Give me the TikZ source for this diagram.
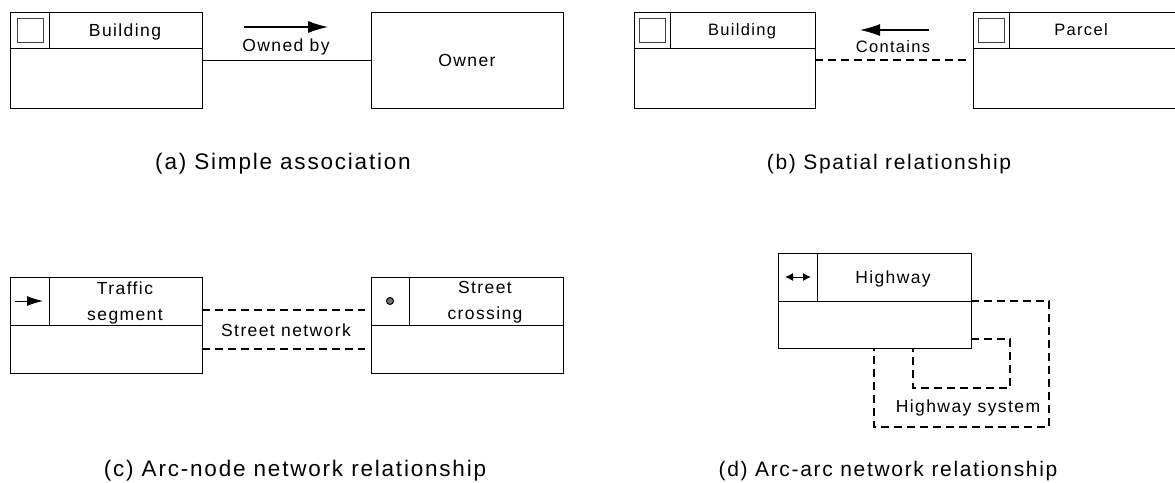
\documentclass[tikz,border=0pt]{standalone}
\usepackage{fontspec}
\setmainfont[LetterSpace=8]{Liberation Sans}
\usetikzlibrary{arrows.meta}
\newcommand{\narrowfont}{\fontsize{16.5}{26}\selectfont}
\tikzset{
  classbox/.style={draw, line width=1pt, inner sep=0pt, outer sep=0pt},
  labeltext/.style={font=\fontsize{17.5}{26}\selectfont, align=center, inner sep=0pt},
  captiontext/.style={font=\fontsize{22.5}{26}\selectfont, inner sep=0pt},
  captionright/.style={font=\fontsize{21}{26}\selectfont, inner sep=0pt},
  iconbox/.style={draw=black!75, line width=1pt, inner sep=0pt, minimum width=26pt, minimum height=24pt},
  dashline/.style={line width=1.1pt, dash pattern=on 8pt off 5pt},
  bigarrow/.style={line width=1.1pt, -{Latex[length=20pt,width=12pt]}},
  iconarrow/.style={line width=1pt, -{Latex[length=16pt,width=10pt]}},
  bothway/.style={line width=1pt, {Latex[length=8pt,width=8pt]}-{Latex[length=8pt,width=8pt]}}
}
\begin{document}
\begin{tikzpicture}[x=1pt,y=-1pt]
  \useasboundingbox (0,0) rectangle (1175,482);
  % the parcel box runs off the right edge of the page
  \foreach \nm/\xa/\ya/\xb/\yb/\xv/\yd/\xt/\txt in {
      buildingA/10/12/202/108/49/48/125/Building,
      buildingB/634/12/815/108/670/48/742/{\narrowfont Building},
      parcel/973/12/1185/108/1009/48/1081/{\narrowfont Parcel\vphantom{g}},
      traffic/10/277/202/373/49/325/125/{Traffic\\segment},
      crossing/371/277/563/373/409/325/485/{Street\\crossing},
      highway/778/253/971/348/817/301/893/Highway}{
    \node[classbox, minimum width={(\xb-\xa)*1pt}, minimum height={(\yb-\ya)*1pt}] (\nm) at ({(\xa+\xb)/2},{(\ya+\yb)/2}) {};
    \draw[line width=1pt] (\xa,\yd) -- (\xb,\yd);
    \draw[line width=1pt] (\xv,\ya) -- (\xv,\yd);
    \node[labeltext] (\nm text) at (\xt,{(\ya+\yd)/2+1.5}) {\txt};
  }
  \node[classbox, minimum width=192pt, minimum height=96pt, labeltext] (owner) at (467,60) {Owner};

  % icons in the header cells
  \node[iconbox] (iconA) at (30,30) {};
  \node[iconbox] (iconB) at (652,30) {};
  \node[iconbox] (iconC) at (991,30) {};
  \node[circle, draw, fill=black!55, line width=1pt, minimum size=7pt, inner sep=0pt] (dot) at (390,301) {};
  \draw[iconarrow] (15,301) -- (43,301);
  \draw[bothway] (785,277) -- (811,277);

  % (a)
  \draw[line width=1pt] (buildingA) -- (owner);
  \draw[bigarrow] (244,27) -- (328,27);
  \node[labeltext] (ownedby) at (286,47) {Owned by};
  \node[captiontext] (capA) at (283,164) {(a) Simple association};

  % (b)
  \coordinate (endB) at (968,60);
  \draw[dashline] (buildingB.east |- endB) -- (endB);
  \draw[bigarrow] (929,30) -- (860,30);
  \node[labeltext] (contains) at (893,47) {\narrowfont Contains};
  \node[captionright] (capB) at (889,164) {(b) Spatial relationship};

  % (c)
  \coordinate (endC1) at (365,310);
  \coordinate (endC2) at (365,349);
  \draw[dashline] (traffic.east |- endC1) -- (endC1);
  \draw[dashline] (traffic.east |- endC2) -- (endC2);
  \node[labeltext] (streetnet) at (286,330) {Street network};
  \node[captiontext] (capC) at (295,471) {(c) Arc-node network relationship};

  % (d)
  \coordinate (outerA) at (1049,301);
  \coordinate (outerB) at (1049,427);
  \coordinate (outerC) at (874,427);
  \coordinate (innerA) at (1010,339);
  \coordinate (innerB) at (1010,388);
  \coordinate (innerC) at (913,388);
  \draw[dashline] (highway.east |- outerA) -- (outerA) -- (outerB) -- (outerC) -- (outerC |- highway.south);
  \draw[dashline] (highway.east |- innerA) -- (innerA) -- (innerB) -- (innerC) -- (innerC |- highway.south);
  \node[labeltext] (system) at (968,408) {Highway system};
  \node[captionright] (capD) at (888,471) {(d) Arc-arc network relationship};
\end{tikzpicture}
\end{document}
